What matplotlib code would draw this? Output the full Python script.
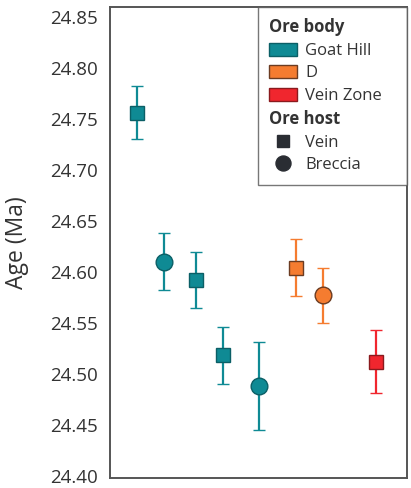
import matplotlib
matplotlib.use("Agg")
import matplotlib.pyplot as plt
from matplotlib.lines import Line2D
from matplotlib.patches import Patch

plt.rcParams['font.family'] = ['Open Sans', 'DejaVu Sans']

# sample data (ages in Ma with 2-sigma errors)
sample_pos = [1.0, 2.0, 3.2, 4.2, 5.5, 6.9, 7.9, 9.85]
ages = [24.756, 24.610, 24.592, 24.518, 24.488, 24.604, 24.577, 24.512]
errors = [0.026, 0.028, 0.027, 0.028, 0.043, 0.028, 0.027, 0.031]
ore_body = ["Goat Hill", "Goat Hill", "Goat Hill", "Goat Hill", "Goat Hill", "D", "D", "Vein Zone"]
ore_host = ["Vein", "Breccia", "Vein", "Vein", "Breccia", "Vein", "Breccia", "Vein"]

body_names = ["Goat Hill", "D", "Vein Zone"]
body_colors = {"Goat Hill": "#0f8a94", "D": "#f57c30", "Vein Zone": "#f0262e"}
body_edges = {"Goat Hill": "#0b5f66", "D": "#6b3c22", "Vein Zone": "#8a1a1e"}
host_names = ["Vein", "Breccia"]
host_markers = {"Vein": "s", "Breccia": "o"}
host_sizes = {"Vein": 9.5, "Breccia": 12}

yticks = [24.40, 24.45, 24.50, 24.55, 24.60, 24.65, 24.70, 24.75, 24.80, 24.85]

fig = plt.figure(figsize=(4.11, 4.88), dpi=100)
ax = fig.add_axes([0.268, 0.021, 0.722, 0.965])

for x, a, e, b, h in zip(sample_pos, ages, errors, ore_body, ore_host):
    ax.errorbar(x, a, yerr=e, fmt=host_markers[h], color=body_colors[b],
                ecolor=body_colors[b], elinewidth=1.6, capsize=4, capthick=1.6,
                markersize=host_sizes[h], markerfacecolor=body_colors[b],
                markeredgecolor=body_edges[b], markeredgewidth=1.0, zorder=3)

ax.set_xlim(0, 11)
ax.set_ylim(24.398, 24.86)
ax.set_xticks([])
ax.set_yticks(yticks)
ax.set_yticklabels([f"{t:.2f}" for t in yticks])
ax.tick_params(axis='y', length=0, pad=9, labelsize=13.5, labelcolor='#333333')
ax.set_ylabel("Age (Ma)", fontsize=16.5, color='#333333', labelpad=15)
for s in ax.spines.values():
    s.set_color('#555555')
    s.set_linewidth(1.4)

# legend with bold section headers
blank = Line2D([], [], linestyle='none', marker=None)
handles = [blank]
labels = ["Ore body"]
for b in body_names:
    handles.append(Patch(facecolor=body_colors[b], edgecolor=body_edges[b], linewidth=1.0))
    labels.append(b)
handles.append(blank)
labels.append("Ore host")
for h in host_names:
    handles.append(Line2D([], [], linestyle='none', marker=host_markers[h], color='#2a2d33',
                          markersize=host_sizes[h] * 0.9))
    labels.append(h)

leg = ax.legend(handles, labels, loc='upper right', bbox_to_anchor=(0.497, 0.0, 0.503, 1.0),
                mode='expand', borderaxespad=0, fontsize=12, frameon=True, fancybox=False,
                handlelength=1.65, handleheight=0.8, labelspacing=0.38,
                handletextpad=0.5, borderpad=0.7)
leg.get_frame().set_edgecolor('#555555')
leg.get_frame().set_linewidth(1.0)
for txt in leg.get_texts():
    txt.set_color('#333333')
    if txt.get_text() in ("Ore body", "Ore host"):
        txt.set_fontweight('bold')

# pull header labels left so they align with the handles
column = leg._legend_handle_box.get_children()[0]
for row in column.get_children():
    area, text_area = row.get_children()
    if text_area._text.get_text() in ("Ore body", "Ore host"):
        area.width = 0
        row.sep = 0

fig.savefig("out.png", dpi=100)
